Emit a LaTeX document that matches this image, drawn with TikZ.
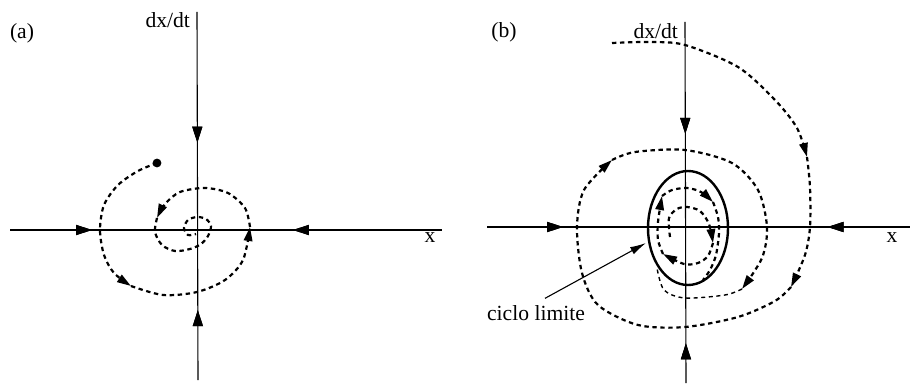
\documentclass[tikz,border=0pt]{standalone}
\usepackage{fontspec}
\setmainfont{Liberation Serif}
\usetikzlibrary{arrows.meta,decorations.markings}

\tikzset{
  axis/.style={line width=0.55pt},
  traj/.style={line width=1.1pt,dash pattern=on 2.2pt off 1.8pt},
  thintraj/.style={line width=0.7pt,dash pattern=on 2pt off 1.8pt},
  tip/.style={-{Triangle[length=7pt,width=4.2pt]}},
  fwd/.style={postaction=decorate,decoration={markings,
    mark=at position #1 with {\arrow{Triangle[length=8pt,width=5pt]}}}},
  bwd/.style={postaction=decorate,decoration={markings,
    mark=at position #1 with {\arrowreversed{Triangle[length=8pt,width=5pt]}}}}
}

\begin{document}
\begin{tikzpicture}[x=0.5pt,y=-0.5pt,line join=round,font=\fontsize{10.8}{13}\selectfont]
  \useasboundingbox (0,0) rectangle (911,385);

  % (a)
  \coordinate (aL) at (10,230);
  \coordinate (aR) at (442,230);
  \coordinate (aT) at (197,12);
  \coordinate (aB) at (198,380);
  \draw[axis,fwd=0.19,bwd=0.655] (aL) -- (aR);
  \draw[axis,fwd=0.355,bwd=0.81] (aT) -- (aB);
  \node (la) at (22,33) {(a)};
  \node[left=0pt] (ya) at (aT|-0,20) {dx/dt};
  \node (xa) at (430,238) {x};

  \fill (157,163) circle[radius=2.2pt];
  \draw[traj,tip] plot[smooth] coordinates {(157,163) (138,171) (118,185) (104,205) (100,230)
    (104,255) (114,273) (131,286)};
  \draw[traj,tip] plot[smooth] coordinates {(131,286) (163,295) (197,292) (225,280)
    (243,260) (250,227)};
  \draw[traj,tip] plot[smooth] coordinates {(250,227) (245,208) (228,193) (205,188)
    (180,192) (165,204) (157,218)};
  \draw[traj] plot[smooth] coordinates {(157,218) (155,232) (162,245) (175,251) (190,249)
    (201,244) (208,236) (211,226) (206,219) (197,217) (188,220) (184,228) (188,235) (196,234)};

  % (b)
  \coordinate (bL) at (487,227);
  \coordinate (bR) at (910,227);
  \coordinate (bT) at (685,22);
  \coordinate (bB) at (686,383);
  \draw[axis,fwd=0.18,bwd=0.805] (bL) -- (bR);
  \draw[axis,fwd=0.31,bwd=0.89] (bT) -- (bB);
  \node (lb) at (504,32) {(b)};
  \node[left=0pt] (yb) at (bT|-0,31) {dx/dt};
  \node (xb) at (892,238) {x};

  \draw[line width=1.2pt] (688,228) ellipse[x radius=20pt,y radius=28.5pt];
  \coordinate (clp) at (646,243);
  \node (cl) at (536,313) {ciclo limite};
  \draw[line width=0.55pt,-{Latex[length=8pt,width=4pt]}] ([xshift=4.5pt]cl.north) -- (clp);

  \draw[traj,tip] plot[smooth] coordinates {(612,43) (650,42) (685,45) (738,67) (775,100)
    (797,128) (807,157)};
  \draw[traj,tip] plot[smooth] coordinates {(807,157) (810,187) (810,227) (805,255) (791,287)};
  \draw[traj,tip] plot[smooth] coordinates {(791,287) (775,301) (738,317) (685,327) (638,325)
    (598,305) (582,273) (577,227) (584,190) (612,160)};
  \draw[traj,tip] plot[smooth] coordinates {(612,160) (635,152) (685,150) (732,163) (758,190)
    (767,227) (762,258) (742,289)};
  \draw[thintraj] plot[smooth] coordinates {(742,289) (725,295) (685,298) (664,290) (657,268)};

  \draw[traj,tip] plot[smooth] coordinates {(670,237) (669,218) (677,209) (687,207) (700,211)
    (709,224) (713,243)};
  \draw[traj,tip] plot[smooth] coordinates {(713,243) (708,256) (698,263) (684,264) (663,254)};
  \draw[traj,tip] plot[smooth] coordinates {(663,254) (658,240) (658,222) (662,196)};
  \draw[traj,tip] plot[smooth] coordinates {(662,196) (672,190) (687,188) (701,192) (713,202)};
  \draw[traj] plot[smooth] coordinates {(713,202) (718,217) (719,233) (716,255) (710,270) (703,280)};
\end{tikzpicture}
\end{document}
